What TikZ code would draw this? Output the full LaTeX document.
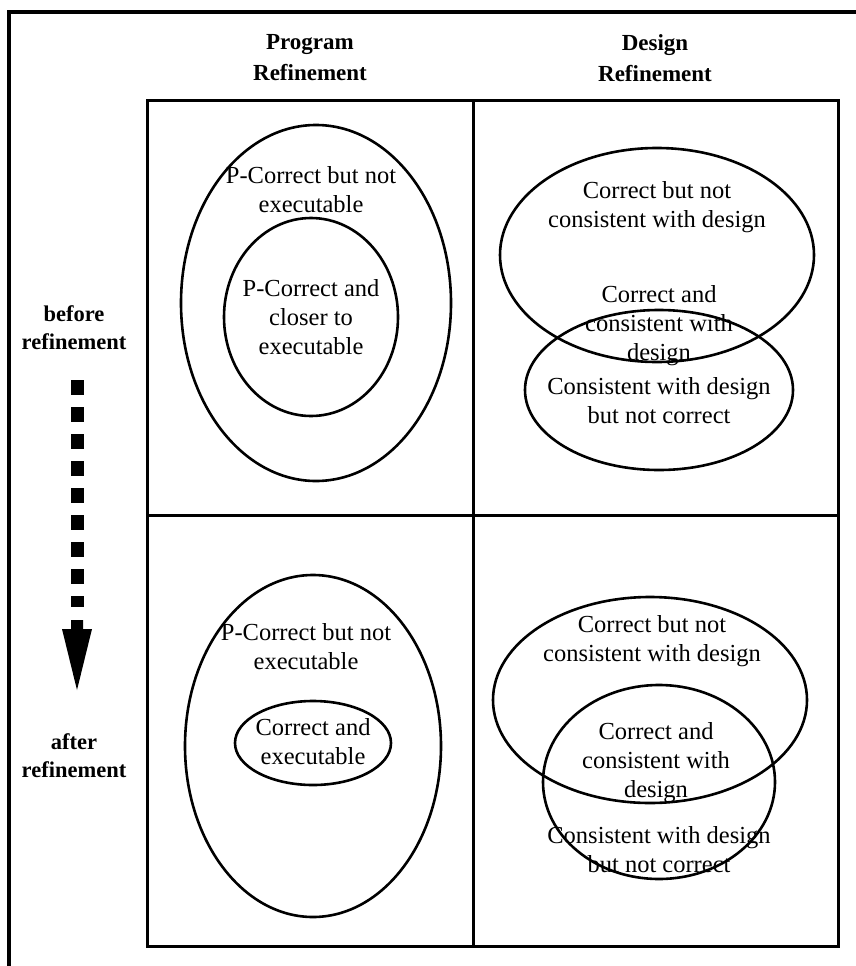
\documentclass[tikz,border=0pt]{standalone}
\usepackage{fontspec}
\setmainfont{Liberation Serif}
\usetikzlibrary{shapes.geometric}
\begin{document}
\begin{tikzpicture}[x=1pt,y=-1pt,
  set/.style={draw, ellipse, line width=2.6pt, inner sep=0pt},
  lbl/.style={align=center, font=\fontsize{24.5}{29}\selectfont, inner sep=0pt},
  hdr/.style={align=center, font=\bfseries\fontsize{23}{31}\selectfont, inner sep=0pt},
  side/.style={align=center, font=\bfseries\fontsize{22.5}{28}\selectfont, inner sep=0pt},
  rule/.style={line width=3pt},
]
\useasboundingbox (0,0) rectangle (856,966);

% open outer frame: top and left edges only
\coordinate (fTL) at (9,12);
\coordinate (fTR) at (856,12);
\coordinate (fBL) at (9,966);
\draw[line width=4pt] (fTR) -- (fTL) -- (fBL);

% two-by-two grid
\coordinate (gTL) at (147,100);
\coordinate (gBR) at (838,946);
\coordinate (gTM) at (473,100);
\coordinate (gBM) at (473,946);
\coordinate (gLM) at (147,515);
\coordinate (gRM) at (838,515);
\draw[rule] (gTL) rectangle (gBR);
\draw[rule] (gTM) -- (gBM);
\draw[rule] (gLM) -- (gRM);

% column headings
\node[hdr] (hProg) at (310,58) {Program\\Refinement};
\node[hdr] (hDes)  at (655,58) {Design\\Refinement};

% row labels
\node[side] (before) at (74,328) {before\\refinement};
\node[side] (after)  at (74,756) {after\\refinement};

% dashed arrow from "before" to "after"
\coordinate (aTop) at (77,380);
\coordinate (aMid) at (77,607);
\draw[line width=13pt, dash pattern=on 15pt off 12pt] (aTop) -- (aMid);
\fill (71,620) -- (83,620) -- (83,629) -- (92,629) -- (77,690) -- (62,629) -- (71,629) -- cycle;

% program refinement, before
\node[set, minimum width=270pt, minimum height=356pt] (pbOuter) at (316,303) {};
\node[set, minimum width=174pt, minimum height=198pt] (pbInner) at (311,317) {};
\node[lbl] (pbOuterTxt) at (311,190) {P-Correct but not\\executable};
\node[lbl] (pbInnerTxt) at (311,317) {P-Correct and\\closer to\\executable};

% design refinement, before
\node[set, minimum width=314pt, minimum height=214pt] (dbCorrect) at (657,255) {};
\node[set, minimum width=268pt, minimum height=160pt] (dbConsist) at (659,390) {};
\node[lbl] (dbCorrectTxt) at (657,207) {Correct but not\\consistent with design};
\node[lbl] (dbBothTxt)    at (659,326) {Correct and\\consistent with\\design};
\node[lbl] (dbConsistTxt) at (659,401) {Consistent with design\\but not correct};

% program refinement, after
\node[set, minimum width=256pt, minimum height=342pt] (paOuter) at (313,746) {};
\node[set, minimum width=156pt, minimum height=84pt] (paInner) at (313,743) {};
\node[lbl] (paOuterTxt) at (306,647) {P-Correct but not\\executable};
\node[lbl] (paInnerTxt) at (313,742) {Correct and\\executable};

% design refinement, after
\node[set, minimum width=314pt, minimum height=206pt] (daCorrect) at (650,700) {};
\node[set, minimum width=232pt, minimum height=194pt] (daConsist) at (659,782) {};
\node[lbl] (daCorrectTxt) at (652,641) {Correct but not\\consistent with design};
\node[lbl] (daBothTxt)    at (656,763) {Correct and\\consistent with\\design};
\node[lbl] (daConsistTxt) at (659,850) {Consistent with design\\but not correct};
\end{tikzpicture}
\end{document}
